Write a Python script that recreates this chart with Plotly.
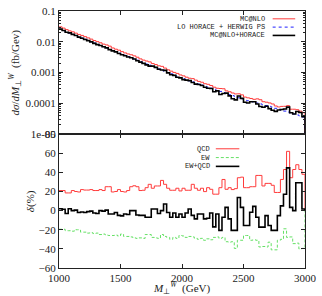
import plotly.graph_objects as go

# bin edges in GeV (25 GeV bins from 1000 to 3000)
edges = list(range(1000, 3001, 25))

# top panel: d sigma / d M_T^W (fb/GeV)
lo_horace_herwig = [
    0.0252, 0.0230, 0.0209, 0.0191, 0.0174, 0.0159, 0.0145, 0.0132, 0.0121, 0.0110,
    0.0100, 0.00913, 0.00831, 0.00760, 0.00694, 0.00632, 0.00577, 0.00526, 0.00480, 0.00438,
    0.00399, 0.00364, 0.00332, 0.00303, 0.00276, 0.00252, 0.00230, 0.00209, 0.00191, 0.00174,
    0.00159, 0.00145, 0.00132, 0.00121, 0.00110, 0.00100, 0.000913, 0.000831, 0.000760, 0.000694,
    6.32e-4, 5.84e-4, 5.40e-4, 4.99e-4, 4.60e-4, 4.25e-4, 3.93e-4, 3.63e-4, 3.35e-4, 3.10e-4,
    2.86e-4, 2.64e-4, 2.44e-4, 2.25e-4, 2.08e-4, 1.92e-4, 1.78e-4, 1.64e-4, 1.52e-4, 1.40e-4,
    1.29e-4, 1.22e-4, 1.15e-4, 1.08e-4, 1.02e-4, 9.58e-5, 9.02e-5, 8.50e-5, 8.00e-5, 7.54e-5,
    6.9e-5, 6.4e-5, 6.0e-5, 5.6e-5, 5.2e-5, 4.8e-5, 4.5e-5, 4.2e-5, 3.9e-5, 3.6e-5,
]
mcnlo = [
    0.0305, 0.0278, 0.0248, 0.0226, 0.0211, 0.0191, 0.0173, 0.0161, 0.0147, 0.0134,
    0.0122, 0.0110, 0.0101, 0.00927, 0.00840, 0.00790, 0.00721, 0.00629, 0.00576, 0.00534,
    0.00479, 0.00435, 0.00402, 0.00379, 0.00348, 0.00315, 0.00278, 0.00254, 0.00237, 0.00222,
    0.00196, 0.00182, 0.00166, 0.00159, 0.00140, 0.00123, 0.00111, 0.00101, 0.000938, 0.000837,
    7.80e-4, 7.08e-4, 6.55e-4, 6.36e-4, 5.68e-4, 5.16e-4, 4.85e-4, 4.35e-4, 4.15e-4, 3.79e-4,
    3.35e-4, 3.09e-4, 3.03e-4, 2.98e-4, 2.54e-4, 2.38e-4, 2.17e-4, 2.02e-4, 2.04e-4, 1.89e-4,
    1.60e-4, 1.51e-4, 1.44e-4, 1.35e-4, 1.40e-4, 1.31e-4, 1.13e-4, 1.09e-4, 1.03e-4, 9.54e-5,
    8.21e-5, 7.62e-5, 7.96e-5, 8.01e-5, 8.42e-5, 6.45e-5, 6.44e-5, 6.22e-5, 5.58e-5, 4.97e-5,
]
mcnlo_horace = [
    0.0257, 0.0233, 0.0203, 0.0195, 0.0174, 0.0160, 0.0142, 0.0130, 0.0119, 0.0109,
    0.00995, 0.00890, 0.00806, 0.00760, 0.00691, 0.00635, 0.00557, 0.00508, 0.00470, 0.00416,
    0.00377, 0.00351, 0.00319, 0.00303, 0.00276, 0.00241, 0.00219, 0.00199, 0.00178, 0.00162,
    0.00162, 0.00147, 0.00128, 0.00121, 0.00118, 0.000980, 0.000849, 0.000810, 0.000707, 0.000670,
    5.88e-4, 5.69e-4, 5.49e-4, 4.74e-4, 4.20e-4, 4.10e-4, 3.79e-4, 3.32e-4, 3.08e-4, 3.02e-4,
    2.37e-4, 2.55e-4, 1.94e-4, 2.09e-4, 2.15e-4, 1.75e-4, 1.41e-4, 1.30e-4, 1.73e-4, 1.45e-4,
    1.09e-4, 1.03e-4, 1.13e-4, 1.13e-4, 9.50e-5, 7.93e-5, 7.47e-5, 8.06e-5, 6.76e-5, 5.99e-5,
    5.48e-5, 6.07e-5, 6.30e-5, 6.56e-5, 7.52e-5, 4.96e-5, 4.5e-5, 5.43e-5, 5.04e-5, 3.66e-5,
]

# bottom panel: relative corrections delta (%)
delta_qcd = [
    21, 21, 18.5, 18.5, 21, 20, 19.5, 22, 21.5, 21.5,
    22, 21, 21, 22, 21, 25, 25, 19.5, 20, 22,
    20, 19.5, 21, 25, 26, 25, 21, 21.3, 24, 27.5,
    23.4, 25.8, 25.8, 31.6, 27.5, 23.4, 21.3, 21.3, 23.4, 20.6,
    23.4, 21.3, 21.3, 27.5, 23.4, 21.3, 23.4, 19.9, 24, 22.3,
    17.2, 17.2, 24, 32.6, 22.3, 24, 22, 23, 34.4, 35,
    24, 24, 25, 25, 36.8, 36.8, 25.8, 28.5, 28.5, 26.5,
    19, 19, 32.6, 43, 62, 34.4, 43, 48, 43, 38,
]
delta_ew = [
    -19.5, -19.5, -21, -21, -21.5, -20, -20, -22.5, -22.5, -23.5,
    -23, -24, -23.5, -25, -24.5, -25.5, -26, -26, -25.5, -26.5,
    -24.5, -27, -27, -27.5, -28.5, -29, -28.5, -29, -25, -25,
    -28, -28.5, -29, -25, -27, -28, -30, -28, -29, -26,
    -26.5, -28, -27, -27.5, -29, -30, -29, -31, -29.5, -30.5,
    -28, -27.5, -29, -28, -32.5, -33, -32.5, -39.5, -31, -31,
    -26, -26, -31, -30.5, -31, -38, -37.5, -38, -33, -41,
    -41, -31, -30, -19, -28, -27.5, -34.5, -34, -40, -39.5,
]
delta_ew_qcd = [
    2, 1.5, -3, 2, 0, 0.5, -2, -1.5, -2, -1,
    -0.5, -2.5, -3, 0, -0.5, 0.5, -3.5, -3.5, -2, -5,
    -5.5, -3.5, -4, 0, 0, -4.5, -5, -5, -7, -7,
    1.7, 1.7, -3, 0, 7, -2, -7, -2.5, -7, -3.5,
    -7, -2.5, 1.7, -5, -8.6, -3.5, -3.5, -8.6, -8, -2.5,
    -17, -3.5, -20.6, -6.9, 3.4, -8.6, -20.6, -20.6, 13.7, 3.4,
    -15.5, -15.5, -1.7, 4.4, -6.9, -17.2, -17.2, -5.2, -15.5, -20.6,
    -20.6, -5.2, 5, 17.2, 44.7, 3.4, 0, 29.2, 29.2, 1.7,
]

RED = "#ff3b3b"
BLUE = "#2020ff"
GREEN = "#66e066"
BLACK = "#000000"
SERIF = "Liberation Serif"
MONO = "Liberation Mono"

fig = go.Figure()

def top(vals, color, width, dash, name):
    fig.add_trace(go.Scatter(x=edges, y=vals + [1e-8], mode="lines", line_shape="hv",
                             line=dict(color=color, width=width, dash=dash),
                             name=name, showlegend=False, xaxis="x", yaxis="y"))

def bottom(vals, color, width, dash, name):
    fig.add_trace(go.Scatter(x=edges, y=vals + [0], mode="lines", line_shape="hv",
                             line=dict(color=color, width=width, dash=dash),
                             name=name, showlegend=False, xaxis="x2", yaxis="y2"))

top(mcnlo, RED, 1, "solid", "MC@NLO")
top(lo_horace_herwig, BLUE, 1, "dot", "LO HORACE + HERWIG PS")
top(mcnlo_horace, BLACK, 1.6, "solid", "MC@NLO+HORACE")
bottom(delta_qcd, RED, 1, "solid", "QCD")
bottom(delta_ew, GREEN, 1, "3px,2px", "EW")
bottom(delta_ew_qcd, BLACK, 1.6, "solid", "EW+QCD")

W, H = 322, 296
ml, mr, mt, mb = 59, 12, 5, 28
pw, ph = W - ml - mr, H - mt - mb
split = 1 - (131 - mt) / ph

def px(xp):
    return (xp - ml) / pw

def py(yp):
    return 1 - (yp - mt) / ph

axis_common = dict(showline=True, linecolor="#222", linewidth=1, mirror="ticks",
                   ticks="inside", ticklen=4, tickcolor="#222", showgrid=False, zeroline=False,
                   tickfont=dict(family=SERIF, size=11, color="#222"))

fig.update_layout(
    width=W, height=H, margin=dict(l=ml, r=mr, t=mt, b=mb),
    paper_bgcolor="white", plot_bgcolor="white", showlegend=False,
    xaxis=dict(domain=[0, 1], anchor="y", range=[1000, 3000],
               tickvals=[1000, 1500, 2000, 2500, 3000], showticklabels=False, **axis_common),
    yaxis=dict(domain=[split, 1], anchor="x", type="log", range=[-5, -1],
               tickvals=[1e-5, 1e-4, 1e-3, 1e-2, 1e-1],
               ticktext=["1e-05", "0.0001", "0.001", "0.01", "0.1"],
               minor=dict(ticks="inside", ticklen=2, tickcolor="#222", dtick="D1"),
               **axis_common),
    xaxis2=dict(domain=[0, 1], anchor="y2", range=[1000, 3000],
                tickvals=[1000, 1500, 2000, 2500, 3000], **axis_common),
    yaxis2=dict(domain=[0, split], anchor="x2", range=[-60, 80],
                tickvals=[-60, -40, -20, 0, 20, 40, 60, 80], **axis_common),
)

ann = []
shapes = []
top_leg = [("MC@NLO", RED, 1, "solid", 13), ("LO HORACE + HERWIG PS", BLUE, 1, "dot", 21.5),
           ("MC@NLO+HORACE", BLACK, 1.6, "solid", 30)]
bot_leg = [("QCD", RED, 1, "solid", 146), ("EW", GREEN, 1, "3px,2px", 155), ("EW+QCD", BLACK, 1.6, "solid", 164)]
for label, col, w, dash, yy in top_leg:
    ann.append(dict(x=px(271), y=py(yy), xref="paper", yref="paper", text=label, showarrow=False,
                    xanchor="right", yanchor="middle", font=dict(family=MONO, size=7, color="#222")))
    shapes.append(dict(type="line", xref="paper", yref="paper", x0=px(277), x1=px(300),
                       y0=py(yy), y1=py(yy), line=dict(color=col, width=w, dash=dash)))
for label, col, w, dash, yy in bot_leg:
    ann.append(dict(x=px(215), y=py(yy), xref="paper", yref="paper", text=label, showarrow=False,
                    xanchor="right", yanchor="middle", font=dict(family=MONO, size=7, color="#222")))
    shapes.append(dict(type="line", xref="paper", yref="paper", x0=px(219), x1=px(243),
                       y0=py(yy), y1=py(yy), line=dict(color=col, width=w, dash=dash)))

ann.append(dict(x=px(14), y=py(68), xref="paper", yref="paper", textangle=-90, showarrow=False,
                text="<i>dσ</i>/<i>dM</i><sub>⊥</sub><sup><i>W</i></sup>  (fb/Gev)",
                font=dict(family=SERIF, size=11, color="#222"), xanchor="center", yanchor="middle"))
ann.append(dict(x=px(30), y=py(200), xref="paper", yref="paper", textangle=-90, showarrow=False,
                text="<i>δ</i>(%)", font=dict(family=SERIF, size=11, color="#222"),
                xanchor="center", yanchor="middle"))
ann.append(dict(x=px(184), y=py(288), xref="paper", yref="paper", showarrow=False,
                text="<i>M</i><sub>⊥</sub><sup><i>W</i></sup>  (GeV)",
                font=dict(family=SERIF, size=11, color="#222"), xanchor="center", yanchor="middle"))

fig.update_layout(annotations=ann, shapes=shapes)
fig.write_html("out.html",
               config={"displayModeBar": False, "staticPlot": True},
               post_script="document.body.style.margin='0';document.body.style.padding='0';"
                           "document.body.style.overflow='hidden';")
